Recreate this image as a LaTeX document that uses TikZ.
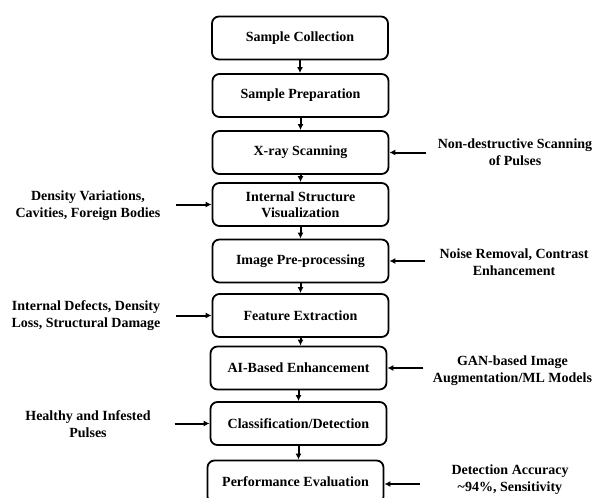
\documentclass[tikz,border=0pt]{standalone}
\usepackage{fontspec}
\setmainfont{Liberation Serif}
\usetikzlibrary{arrows.meta,positioning}
\tikzset{
  stage/.style={draw, line width=1.8pt, rounded corners=7pt, minimum width=176pt,
    minimum height=43pt, align=center, font=\bfseries\fontsize{14}{16.5}\selectfont},
  note/.style={align=center, font=\bfseries\fontsize{14}{17}\selectfont},
  flow/.style={-{Latex[length=6pt,width=6pt]}, line width=2pt}
}
\begin{document}
\begin{tikzpicture}[x=1pt,y=-1pt]
\useasboundingbox (0,0) rectangle (595,498);
% draw the stages
\node[stage] (collect) at (300,38) {Sample Collection};
\node[stage] (prep) at (300.5,95.5) {Sample Preparation};
\node[stage] (xray) at (300.5,152.5) {X-ray Scanning};
\node[stage] (visual) at (300.5,204.5) {Internal Structure\\Visualization};
\node[stage] (preproc) at (300.5,261) {Image Pre-processing};
\node[stage] (feature) at (300.5,315.5) {Feature Extraction};
\node[stage] (enhance) at (298.5,368) {AI-Based Enhancement};
\node[stage] (classify) at (298.5,423.5) {Classification/Detection};
\node[stage] (perform) at (295.5,482) {Performance Evaluation};

% draw arrows between stages
\foreach \a/\b in {collect/prep,prep/xray,xray/visual,visual/preproc,preproc/feature,
  feature/enhance,enhance/classify,classify/perform}
\draw[flow] (\a.south) -- (\a.south |- \b.north);

% draw notes on the right
\node[note] (nxray) at (515,152) {Non-destructive Scanning\\of Pulses};
\node[note] (npre) at (514,262) {Noise Removal, Contrast\\Enhancement};
\node[note] (nenh) at (512.5,371) {GAN-based Image\\Augmentation/ML Models};
\node[note] (nperf) at (510,480) {Detection Accuracy\\\textasciitilde94\%, Sensitivity};
\draw[flow] ([xshift=37pt]xray.east) -- (xray.east);
\draw[flow] ([xshift=36pt]preproc.east) -- (preproc.east);
\draw[flow] ([xshift=36pt]enhance.east) -- (enhance.east);
\draw[flow] ([xshift=36pt,yshift=-2pt]perform.east) -- ([yshift=-2pt]perform.east);

% draw notes on the left
\node[note] (nvis) at (88,206) {Density Variations,\\Cavities, Foreign Bodies};
\node[note] (nfeat) at (86,316) {Internal Defects, Density\\Loss, Structural Damage};
\node[note] (ncls) at (88,424) {Healthy and Infested\\Pulses};
\draw[flow] ([xshift=-36pt]visual.west) -- (visual.west);
\draw[flow] ([xshift=-36pt]feature.west) -- (feature.west);
\draw[flow] ([xshift=-35pt]classify.west) -- (classify.west);
\end{tikzpicture}
\end{document}
